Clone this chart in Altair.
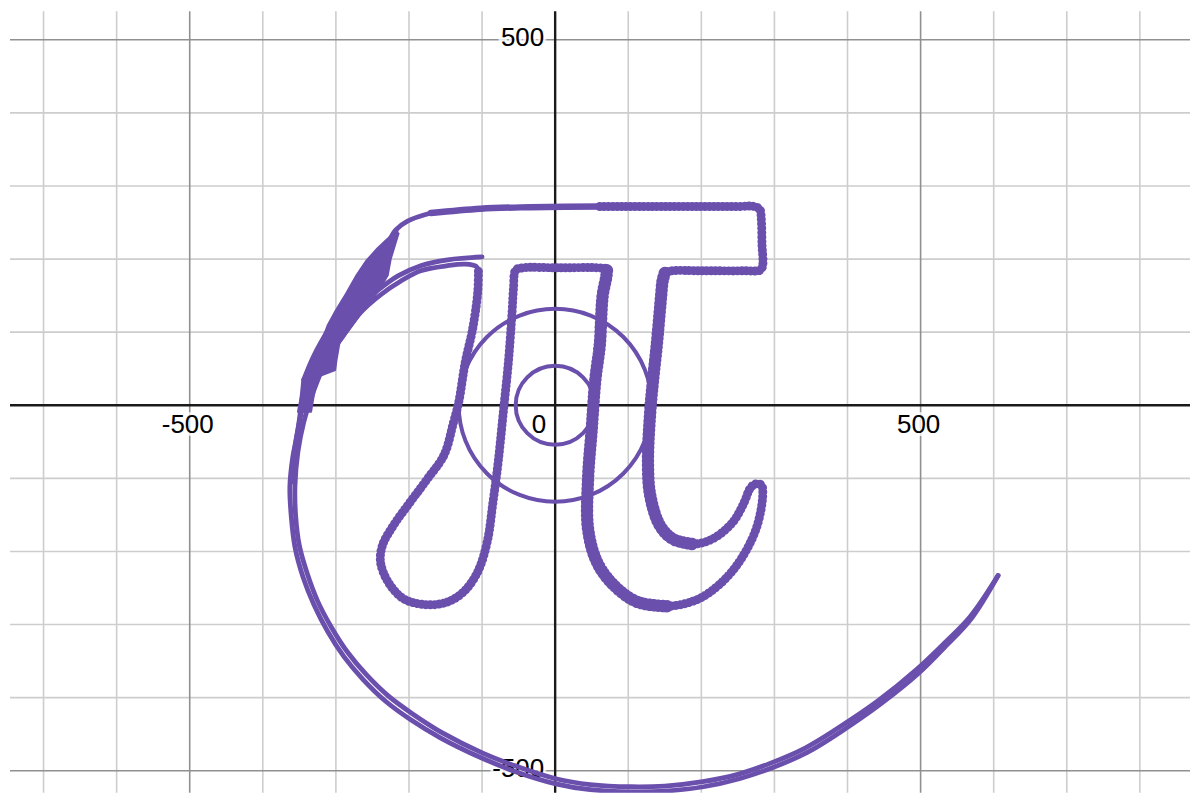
import pandas as pd
import altair as alt

# grid lines and axis ticks (data units)
grid_x_minor = [-700, -600, -400, -300, -200, -100, 100, 200, 300, 400, 600, 700, 800]
grid_y_minor = [-400, -300, -200, -100, 100, 200, 300, 400]
grid_major = [-500, 500]
tick_values = [-500, 500]

# curve pieces
lead_x = [-344, -330, -307, -284, -262, -243, -229, -218, -202, -170]
lead_y = [35, 68, 109, 145, 172, 199, 222, 240, 252, 263]

pi_x = [-170, -102, -34, 61, 130, 198, 250, 272, 280, 282, 283, 284, 281, 260, 198, 160, 150,
        147, 145, 143, 139, 134, 130, 127, 130, 143, 161, 188, 215, 243, 259, 266, 273, 282, 284,
        275, 252, 225, 194, 153, 112, 79, 57, 45, 45, 50, 55, 61, 65, 70, 71, 60, 7, -45, -54,
        -57, -59, -64, -71, -78, -85, -93, -106, -125, -147, -175, -207, -229, -239, -236, -221,
        -198, -175, -152, -139, -132, -123, -113, -106, -105]
pi_y = [263, 269, 271, 272, 272, 272, 272, 272, 268, 255, 220, 192, 185, 184, 184, 184, 181,
        170, 150, 127, 82, 35, -10, -78, -123, -164, -183, -190, -183, -160, -132, -115, -108,
        -109, -123, -169, -214, -245, -266, -275, -269, -245, -214, -169, -101, -33, 35, 82, 150,
        176, 186, 188, 188, 188, 185, 160, 127, 59, -10, -78, -132, -187, -228, -255, -269, -273,
        -265, -241, -214, -191, -164, -132, -101, -68, -23, 4, 59, 104, 154, 184]

s3_x = [-105, -108, -123, -147, -184, -211, -239, -266, -290, -314, -331, -344, -352, -356, -355,
        -350, -339, -325, -306, -284, -258, -228, -194, -153, -99, -53, 1, 48, 104, 150, 202, 250,
        294, 342, 385, 441, 494, 532, 568, 606]
s3_y = [184, 190, 193, 191, 184, 170, 151, 127, 95, 59, 18, -23, -64, -110, -152, -192, -231,
        -268, -304, -338, -369, -398, -423, -449, -476, -494, -511, -519, -522, -521, -515, -505,
        -490, -469, -443, -405, -362, -326, -289, -233]

spiral_x = [-344, -348, -353, -359, -363, -361, -356, -345, -330, -311, -289, -263, -232, -198,
            -157, -102, -55, 1, 48, 104, 150, 203, 252, 297, 345, 389, 445, 498, 535, 570, 606]
spiral_y = [35, -4, -40, -71, -112, -153, -194, -235, -273, -310, -344, -375, -405, -430, -455,
            -482, -501, -518, -526, -529, -528, -522, -511, -496, -475, -448, -409, -366, -329,
            -291, -233]

hook_x = [-100, -147, -184, -215, -243, -273, -300, -323, -340, -350, -357, -361]
hook_y = [203, 199, 191, 177, 157, 130, 95, 56, 18, -23, -64, -105]

# outline of the solid wedge where the strands pile up (upper left)
blob_x = [-215, -230, -243, -259, -273, -286, -300, -311, -320, -330, -340, -348, -352,
          -334, -330, -325, -301, -299, -295, -277, -262, -243, -229, -225, -218, -214]
blob_y = [240, 227, 215, 197, 176, 153, 130, 110, 86, 63, 35, 11, -9,
          -9, 15, 39, 48, 63, 86, 110, 131, 155, 178, 200, 223, 236]

circle_r = [54, 132]

PURPLE = "#6a4fad"


def path(name, xs, ys):
    return pd.DataFrame({"x": xs, "y": ys, "i": range(len(xs)), "seg": name})


xsc = alt.Scale(domain=[-745.9, 868.6], nice=False, zero=False)
ysc = alt.Scale(domain=[-530.1, 539.0], nice=False, zero=False)
X = alt.X("x:Q", scale=xsc, axis=None)
Y = alt.Y("y:Q", scale=ysc, axis=None)

# grid
gx_minor = alt.Chart(pd.DataFrame({"x": grid_x_minor})).mark_rule(color="#cdcdcd", strokeWidth=1.6).encode(x=X)
gy_minor = alt.Chart(pd.DataFrame({"y": grid_y_minor})).mark_rule(color="#cdcdcd", strokeWidth=1.6).encode(y=Y)
gx_major = alt.Chart(pd.DataFrame({"x": grid_major})).mark_rule(color="#909090", strokeWidth=1.6).encode(x=X)
gy_major = alt.Chart(pd.DataFrame({"y": grid_major})).mark_rule(color="#909090", strokeWidth=1.6).encode(y=Y)
ax_x = alt.Chart(pd.DataFrame({"x": [0]})).mark_rule(color="#1a1a1a", strokeWidth=2.4).encode(x=X)
ax_y = alt.Chart(pd.DataFrame({"y": [0]})).mark_rule(color="#1a1a1a", strokeWidth=2.4).encode(y=Y)

# tick labels
xlab = pd.DataFrame({"x": tick_values, "y": [0] * len(tick_values), "t": [str(v) for v in tick_values]})
ylab = pd.DataFrame({"x": [0] * len(tick_values), "y": tick_values, "t": [str(v) for v in tick_values]})
zlab = pd.DataFrame({"x": [0], "y": [0], "t": ["0"]})

font = dict(font="Liberation Sans", fontSize=26)
halo = dict(stroke="white", strokeWidth=6, strokeOpacity=0.8)
labels = []
for df, kw in [(xlab, dict(align="center", baseline="middle", dx=-2, dy=20)),
               (ylab, dict(align="right", baseline="middle", dx=-11, dy=-2)),
               (zlab, dict(align="right", baseline="middle", dx=-9, dy=20))]:
    base = alt.Chart(df).encode(x=X, y=Y, text="t:N")
    labels.append(base.mark_text(**font, **kw, **halo))
    labels.append(base.mark_text(**font, **kw, color="black"))

# curve
enc = dict(x=X, y=Y, detail="seg:N", order="i:Q")
thin = pd.concat([path("lead", lead_x, lead_y), path("s3", s3_x, s3_y),
                  path("spiral", spiral_x, spiral_y), path("hook", hook_x, hook_y)])
thin_lines = alt.Chart(thin).mark_line(color=PURPLE, strokeWidth=4.8, interpolate="catmull-rom",
                                       strokeCap="round", clip=True).encode(**enc)

blob = alt.Chart(path("blob", blob_x, blob_y)).mark_line(
    fill=PURPLE, stroke=PURPLE, strokeWidth=2, strokeJoin="round", interpolate="linear"
).encode(**enc)

pi_df = path("pi", pi_x, pi_y)
pi_line = alt.Chart(pi_df).mark_line(color=PURPLE, strokeWidth=6.5, interpolate="catmull-rom",
                                     strokeJoin="round", strokeCap="round", clip=True).encode(**enc)
pi_beads = alt.Chart(pi_df[pi_df["i"] >= 3]).mark_line(
    color=PURPLE, strokeWidth=9, interpolate="catmull-rom",
    strokeCap="round", strokeDash=[0.1, 4.3], clip=True).encode(**enc)

# right leg and inner right stroke of the pi are drawn heavier
heavy = pd.concat([pi_df[(pi_df["i"] >= 16) & (pi_df["i"] <= 27)].assign(seg="a"),
                   pi_df[(pi_df["i"] >= 39) & (pi_df["i"] <= 50)].assign(seg="b")])
pi_heavy = alt.Chart(heavy).mark_line(color=PURPLE, strokeWidth=10, interpolate="catmull-rom",
                                      strokeCap="round", clip=True).encode(**enc)
pi_heavy_beads = alt.Chart(heavy).mark_line(
    color=PURPLE, strokeWidth=12.5, interpolate="catmull-rom",
    strokeCap="round", strokeDash=[0.1, 4.3], clip=True).encode(**enc)

circles = alt.Chart(pd.DataFrame({"x": [0, 0], "y": [0, 0], "r": circle_r})).mark_arc(
    theta=0, theta2=6.2832, fillOpacity=0, stroke=PURPLE, strokeWidth=4
).encode(
    x=X, y=Y,
    radius=alt.Radius("r:Q", stack=False,
                      scale=alt.Scale(type="linear", domain=[0, 1000], range=[0, 733.35],
                                      nice=False, zero=True))
)

chart = alt.layer(
    gx_minor, gy_minor, gx_major, gy_major, ax_x, ax_y, *labels,
    circles, thin_lines, blob, pi_line, pi_beads, pi_heavy, pi_heavy_beads
).properties(width=1184, height=784, padding=0).configure_view(strokeWidth=0)

chart.save("out.html", embed_options={"renderer": "svg", "actions": False})
